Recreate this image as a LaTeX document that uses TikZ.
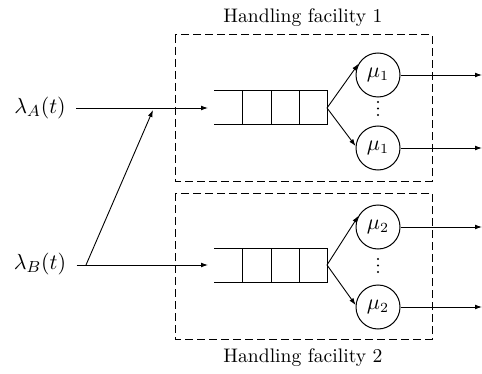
\documentclass[tikz,border=0pt]{standalone}
\usetikzlibrary{arrows.meta}
\begin{document}
\begin{tikzpicture}[x=0.5pt,y=-0.5pt,
  conn/.style={line width=0.45pt,-{Latex[length=3.5pt,width=2.4pt]}},
  server/.style={circle,draw,line width=0.5pt,minimum size=22pt,inner sep=0pt,
    font=\fontsize{10.5}{12}\selectfont},
  facility/.style={draw,dash pattern=on 4pt off 2pt,line width=0.5pt},
  qline/.style={line width=0.5pt},
  title/.style={font=\fontsize{9.8}{11}\selectfont,inner sep=0pt},
  lab/.style={inner sep=1pt,font=\fontsize{11}{13}\selectfont},
  dot/.style={circle,fill,inner sep=0pt,minimum size=1.1pt}]
\useasboundingbox (0,0) rectangle (482,374);

% facility boxes
\draw[facility] (175,35) rectangle (432,181);
\draw[facility] (175,193) rectangle (432,339);
\node[title] (t1) at (303,18) {Handling facility 1};
\node[title] (t2) at (303,358) {Handling facility 2};

% queues
\foreach \y/\n in {108/1,265/2}{
  \draw[qline] (214,\y-17) -- (327,\y-17) -- (327,\y+17) -- (214,\y+17);
  \foreach \x in {242,271,299} \draw[qline] (\x,\y-17) -- (\x,\y+17);
  \coordinate (q\n in) at (208,\y);
  \coordinate (q\n out) at (327,\y);
}

% servers
\node[server] (s11) at (378,75) {$\mu_1$};
\node[server] (s12) at (378,148) {$\mu_1$};
\node[server] (s21) at (378,227) {$\mu_2$};
\node[server] (s22) at (378,307) {$\mu_2$};
\foreach \y/\n in {102/a,108.5/b,115/c,259/d,265.5/e,272/f}
  \node[dot] (dot\n) at (378,\y) {};

\draw[conn] (q1out) -- (s11.150);
\draw[conn] (q1out) -- (s12.175);
\draw[conn] (q2out) -- (s21.150);
\draw[conn] (q2out) -- (s22.175);

% outputs
\coordinate (o11) at (482,75);
\coordinate (o12) at (482,148);
\coordinate (o21) at (482,227);
\coordinate (o22) at (482,307);
\draw[conn] (s11.east) -- (o11);
\draw[conn] (s12.east) -- (o12);
\draw[conn] (s21.east) -- (o21);
\draw[conn] (s22.east) -- (o22);

% arrivals
\node[lab] (la) at (40,108) {$\lambda_A(t)$};
\node[lab] (lb) at (40,264) {$\lambda_B(t)$};
\draw[conn,shorten <=4pt] (la.east) -- (q1in);
\draw[conn,shorten <=4pt] (lb.east |- q2in) -- (q2in);
\coordinate (jB) at (86,265);
\coordinate (jA) at (153,110);
\draw[conn] (jB) -- (jA);
\end{tikzpicture}
\end{document}
